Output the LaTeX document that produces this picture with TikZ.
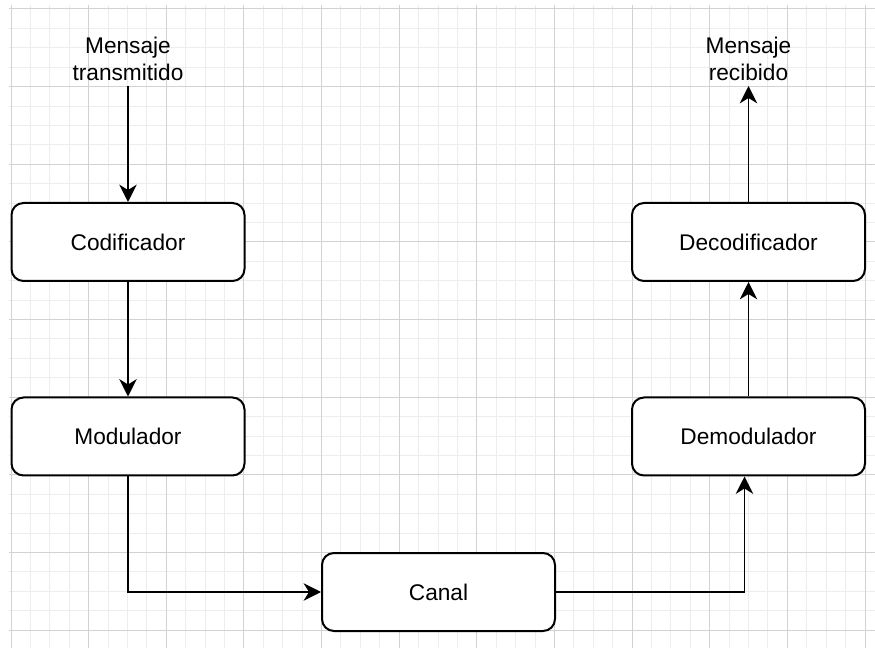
\documentclass[tikz,border=0pt]{standalone}
\usepackage{fontspec}
\setmainfont{Liberation Sans}
\usetikzlibrary{arrows.meta}
\definecolor{gridminor}{HTML}{EDEDED}
\definecolor{gridmajor}{HTML}{D2D2D2}
\begin{document}
\begin{tikzpicture}[x=0.75pt,y=-0.75pt,
  block/.style={draw, line width=1.5pt, rounded corners=9pt, fill=white,
    minimum width=174.75pt, minimum height=58.5pt, inner sep=0pt,
    font=\fontsize{17}{20.8}\selectfont},
  caption/.style={align=center, inner sep=3.5pt,
    font=\fontsize{17}{20.8}\selectfont},
  flow/.style={draw, line width=1.3pt,
    -{Stealth[length=13pt,width=13pt,inset=4pt]}}]
\useasboundingbox (0,0) rectangle (875,648);
% background grid: minor lines, then major lines every fourth
\foreach \k in {0,...,44}
  \draw[gridminor, line width=0.75pt] ({11+19.41*\k},5) -- ({11+19.41*\k},648);
\foreach \k in {0,...,32}
  \draw[gridminor, line width=0.75pt] (9,{9+19.41*\k}) -- (875,{9+19.41*\k});
\foreach \k in {0,...,11}
  \draw[gridmajor, line width=0.75pt] ({11+77.64*\k},5) -- ({11+77.64*\k},648);
\foreach \k in {0,...,8}
  \draw[gridmajor, line width=0.75pt] (9,{9+77.64*\k}) -- (875,{9+77.64*\k});

% blocks of the communication chain
\node[block] (cod) at (128,242) {Codificador};
\node[block] (mod) at (128,436.5) {Modulador};
\node[block] (can) at (438.5,592) {Canal};
\node[block] (dec) at (748.5,242) {Decodificador};
\node[block] (dem) at (748.5,436.5) {Demodulador};

% input and output messages
\node[caption, anchor=south] (tx) at (128,86) {Mensaje\\transmitido};
\node[caption, anchor=south] (rx) at (748.5,86) {Mensaje\\recibido};

\coordinate (demin) at ([xshift=-3pt]dem.south);

% connectors
\draw[flow] (tx.south) -- (cod.north);
\draw[flow] (cod) -- (mod);
\draw[flow] (mod.south) |- (can.west);
\draw[flow] (can.east) -| (demin);
\draw[flow] (dem) -- (dec);
\draw[flow] (dec.north) -- (rx.south);
\end{tikzpicture}
\end{document}
